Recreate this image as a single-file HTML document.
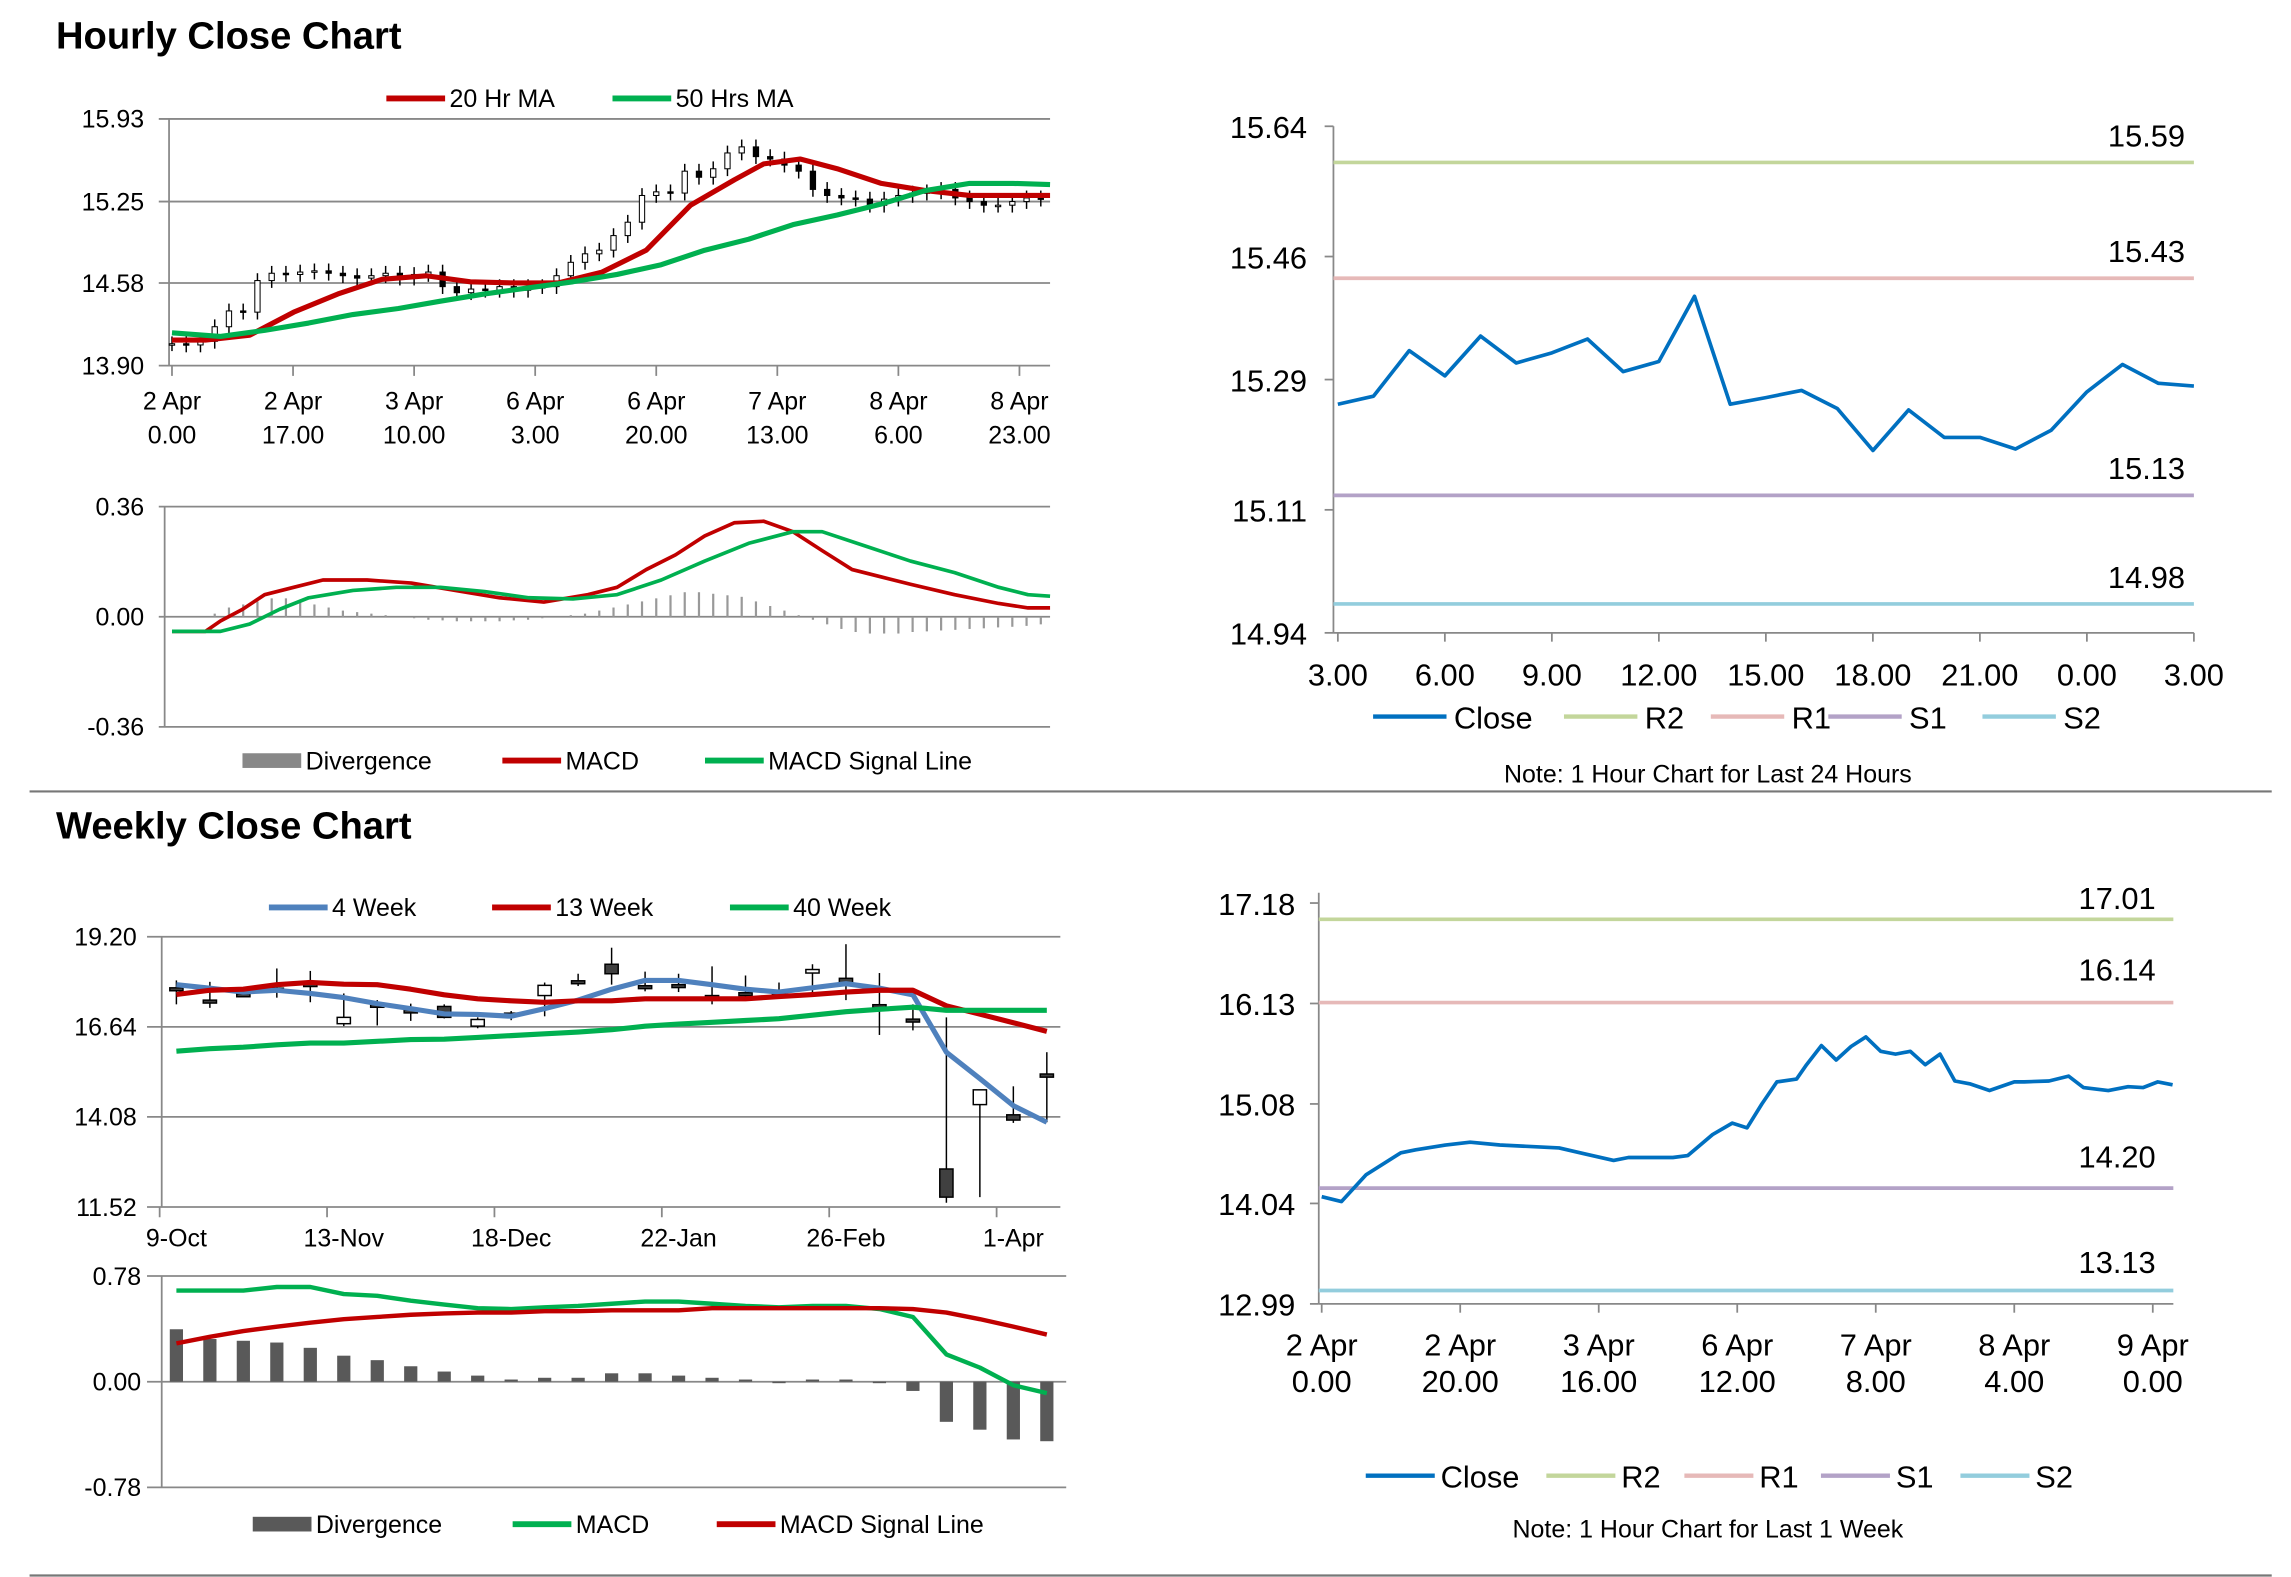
<!DOCTYPE html>
<html><head><meta charset="utf-8"><style>
html,body{margin:0;padding:0;background:#fff;}
svg{display:block;font-family:"Liberation Sans",sans-serif;}
</style></head><body>
<svg id="s" width="2291" height="1577" viewBox="0 0 1560 1074">
<text x="38" y="33" font-size="26" font-weight="bold">Hourly Close Chart</text>
<text x="38" y="571" font-size="26" font-weight="bold">Weekly Close Chart</text>
<line x1="20" y1="539" x2="1547" y2="539" stroke="#777" stroke-width="1.5"/>
<line x1="20" y1="1073" x2="1547" y2="1073" stroke="#777" stroke-width="1.5"/>
<g id="g"></g>
</svg>
<script>
const hCloses=[14.08,14.07,14.10,14.22,14.35,14.34,14.60,14.66,14.65,14.67,14.68,14.66,14.64,14.62,14.64,14.66,14.62,14.65,14.67,14.55,14.50,14.53,14.52,14.55,14.52,14.55,14.55,14.64,14.75,14.82,14.85,14.97,15.08,15.30,15.33,15.32,15.50,15.45,15.52,15.65,15.70,15.62,15.60,15.55,15.50,15.35,15.30,15.28,15.27,15.22,15.27,15.30,15.32,15.33,15.35,15.28,15.25,15.22,15.22,15.25,15.28,15.27];
const ma20Hours=[0,4.7,10.9,17.1,23.3,29.5,35.7,41.9,48,54.2,60.4,66.6,72.8,79,83.1,88.2,93.4,99.6,105.8,112,118.1,123.3];
const ma20=[14.11,14.11,14.15,14.34,14.49,14.61,14.64,14.59,14.58,14.58,14.67,14.85,15.22,15.43,15.56,15.60,15.52,15.40,15.34,15.30,15.30,15.30];
const ma50Hours=[0,6.8,13,19.2,25.4,31.8,37.7,43.9,50.1,56.3,62.5,68.7,74.8,81,87.2,93.4,99.6,105.8,112,118.1,123.3];
const ma50=[14.17,14.14,14.19,14.25,14.32,14.37,14.43,14.49,14.54,14.59,14.65,14.73,14.85,14.94,15.06,15.14,15.23,15.34,15.40,15.40,15.39];
const hTicks=["2 Apr|0.00","2 Apr|17.00","3 Apr|10.00","6 Apr|3.00","6 Apr|20.00","7 Apr|13.00","8 Apr|6.00","8 Apr|23.00"];
const hPriceTicks=[15.93,15.25,14.58,13.90];
const macdHours=[0,4.7,6.8,9.9,13,17.1,21.2,27.4,33.6,39.8,46,52.2,58.4,62.5,66.6,70.7,74.8,79,83.1,87.2,91.3,95.5,99.6,103.7,109.9,116.1,120.2,123.3];
const macdH=[-0.048,-0.048,-0.014,0.024,0.072,0.096,0.12,0.12,0.11,0.086,0.062,0.048,0.072,0.096,0.154,0.202,0.264,0.307,0.312,0.278,0.216,0.154,0.13,0.106,0.072,0.043,0.029,0.029];
const sigHours=[0,6.8,10.9,15.1,19.2,25.4,31.5,37.7,43.9,50.1,56.3,62.5,68.7,74.8,81,87.2,91.3,97.5,103.7,109.9,116.1,120.2,123.3];
const sigH=[-0.048,-0.048,-0.024,0.024,0.062,0.086,0.096,0.096,0.082,0.062,0.058,0.072,0.12,0.182,0.24,0.278,0.278,0.23,0.182,0.144,0.096,0.072,0.067];
const divH=[0,0,0,0.01,0.03,0.04,0.05,0.06,0.06,0.05,0.04,0.03,0.02,0.015,0.01,0.005,0,-0.005,-0.01,-0.012,-0.015,-0.015,-0.015,-0.015,-0.012,-0.01,-0.005,0,0.005,0.01,0.02,0.03,0.04,0.05,0.06,0.07,0.08,0.08,0.075,0.07,0.065,0.05,0.035,0.02,0.005,-0.01,-0.025,-0.04,-0.05,-0.055,-0.055,-0.055,-0.05,-0.048,-0.045,-0.043,-0.04,-0.038,-0.035,-0.033,-0.03,-0.025];
const macdHTicks=[0.36,0.00,-0.36];
const dayClose=[15.256,15.267,15.330,15.295,15.350,15.313,15.327,15.346,15.301,15.315,15.405,15.256,15.265,15.275,15.250,15.192,15.248,15.210,15.210,15.194,15.220,15.273,15.311,15.285,15.281];
const dayTicks=["3.00","6.00","9.00","12.00","15.00","18.00","21.00","0.00","3.00"];
const dayYTicks=[15.64,15.46,15.29,15.11,14.94];
const dayLevels=[15.59,15.43,15.13,14.98];
const wOpen=[17.75,17.40,17.58,17.74,17.87,16.73,17.28,17.12,17.22,16.66,17.03,17.53,17.95,18.42,17.81,17.84,17.53,17.61,17.64,18.17,18.02,17.27,16.86,12.60,14.43,14.14,15.30];
const wClose=[17.70,17.33,17.53,17.70,17.85,16.91,17.22,17.06,16.91,16.85,16.98,17.82,17.87,18.15,17.75,17.76,17.50,17.55,17.61,18.27,17.87,17.24,16.81,11.80,14.85,13.99,15.21];
const wHigh=[17.96,17.92,17.77,18.30,18.23,17.59,17.40,17.30,17.28,16.91,17.09,17.90,18.15,18.89,18.21,18.15,18.36,18.10,17.90,18.42,18.99,18.17,17.28,16.91,14.85,14.95,15.92];
const wLow=[17.28,17.18,17.50,17.47,17.34,16.66,16.68,16.81,16.88,16.60,16.83,16.94,17.80,17.84,17.65,17.63,17.28,17.50,17.53,17.50,17.40,16.41,16.54,11.64,11.80,13.91,13.93];
const wk4=[17.84,17.74,17.63,17.68,17.59,17.47,17.30,17.16,17.01,16.99,16.94,17.16,17.40,17.71,17.96,17.96,17.84,17.71,17.63,17.75,17.87,17.74,17.55,15.92,15.17,14.40,13.93];
const wk13=[17.56,17.68,17.71,17.84,17.90,17.85,17.84,17.71,17.55,17.44,17.38,17.34,17.38,17.38,17.44,17.44,17.44,17.44,17.50,17.56,17.63,17.68,17.68,17.24,17.00,16.76,16.51];
const wk40=[15.95,16.02,16.06,16.13,16.18,16.18,16.23,16.28,16.29,16.34,16.39,16.44,16.49,16.56,16.66,16.72,16.77,16.82,16.87,16.97,17.07,17.14,17.20,17.11,17.11,17.11,17.11];
const wTicks=["9-Oct","13-Nov","18-Dec","22-Jan","26-Feb","1-Apr"];
const wPriceTicks=[19.20,16.64,14.08,11.52];
const wMacd=[0.673,0.673,0.673,0.699,0.699,0.647,0.634,0.598,0.569,0.543,0.536,0.549,0.559,0.575,0.591,0.591,0.575,0.559,0.549,0.559,0.559,0.536,0.478,0.201,0.104,-0.026,-0.084];
const wSig=[0.283,0.331,0.374,0.406,0.435,0.461,0.478,0.494,0.504,0.510,0.510,0.520,0.520,0.526,0.526,0.526,0.543,0.543,0.543,0.543,0.543,0.543,0.536,0.510,0.461,0.406,0.348];
const wDiv=[0.387,0.315,0.302,0.289,0.25,0.192,0.159,0.114,0.075,0.045,0.016,0.029,0.029,0.062,0.062,0.045,0.029,0.016,-0.01,0.016,0.016,-0.01,-0.068,-0.296,-0.354,-0.426,-0.439];
const wMacdTicks=[0.78,0.00,-0.78];
const wkHours=[0,4,9,16,19,25,30,36,48,53,59,62,71,74,79,83,86,89,92,96,98,101,104,107,110,113,116,119,122,125,128,131,135,140,142,147,151,154,159,163,166,169,172];
const wkClose=[14.11,14.06,14.34,14.57,14.60,14.65,14.68,14.65,14.62,14.56,14.49,14.52,14.52,14.54,14.76,14.88,14.83,15.08,15.31,15.34,15.49,15.69,15.54,15.68,15.78,15.63,15.60,15.63,15.49,15.60,15.32,15.29,15.22,15.31,15.31,15.32,15.37,15.25,15.22,15.26,15.25,15.31,15.28];
const wkTicks=["2 Apr|0.00","2 Apr|20.00","3 Apr|16.00","6 Apr|12.00","7 Apr|8.00","8 Apr|4.00","9 Apr|0.00"];
const wkYTicks=[17.18,16.13,15.08,14.04,12.99];
const wkLevels=[17.01,16.14,14.20,13.13];

const NS="http://www.w3.org/2000/svg";
const G=document.getElementById('g');
function mk(tag,attrs,parent){const e=document.createElementNS(NS,tag);for(const k in attrs)e.setAttribute(k,attrs[k]);(parent||G).appendChild(e);return e;}
function txt(x,y,s,size,anchor,parent){const t=mk('text',{x:x,y:y,'font-size':size,'text-anchor':anchor||'start'},parent);t.textContent=s;return t;}
function lin(a,b,c,d,col,w,parent){return mk('line',{x1:a,y1:b,x2:c,y2:d,stroke:col,'stroke-width':w},parent);}
function path(xs,ys,sx,sy,col,w,parent){let d='';for(let i=0;i<xs.length;i++)d+=(i?'L':'M')+sx(xs[i]).toFixed(1)+' '+sy(ys[i]).toFixed(1);return mk('path',{d:d,fill:'none',stroke:col,'stroke-width':w,'stroke-linejoin':'round'},parent);}
function grp(name){const g=mk('g',{});return g;}
function legLine(x,y,col,label,size,parent){const g=mk('g',{},parent);lin(x,y,x+40,y,col,4,g);txt(x+43,y+6,label,size,'start',g);return g;}
function legBox(x,y,col,label,size,parent){const g=mk('g',{},parent);mk('rect',{x:x,y:y-5,width:40,height:10,fill:col},g);txt(x+43,y+6,label,size,'start',g);return g;}
const RED='#c00000',GREEN='#00b050',BLUE='#4f81bd',CLOSE='#0070c0';

(function(){
 const g=grp('hourly-price-chart');
 const xH=h=>117+h*4.85, y=v=>81+(15.93-v)*168/2.03;
 hPriceTicks.forEach(v=>{lin(108,y(v),715,y(v),'#888',1.2,g);const t=txt(98,y(v)+6,v.toFixed(2),17,'end',g);});
 lin(115,81,115,249,'#888',1.2,g);
 hTicks.forEach((s,i)=>{const h=i*17;lin(xH(h),249,xH(h),256,'#888',1.2,g);const p=s.split('|');const t=txt(xH(h),279,p[0],17,'middle',g);txt(xH(h),302,p[1],17,'middle',g);});
 hCloses.forEach((c,i)=>{const o=i?hCloses[i-1]:c;const x=xH(i*2);const top=y(Math.max(o,c)),bot=y(Math.min(o,c));
  const w=lin(x,top-5,x,bot+5,'#000',1,g);
  const r=mk('rect',{x:x-1.8,y:top,width:3.6,height:Math.max(1,bot-top),fill:c>=o?'#fff':'#000',stroke:'#000','stroke-width':0.7},g);});
 const a=path(ma20Hours,ma20,xH,y,RED,3.5,g);
 const b=path(ma50Hours,ma50,xH,y,GREEN,3.5,g);
 legLine(263,67,RED,'20 Hr MA',17,g);legLine(417,67,GREEN,'50 Hrs MA',17,g);
})();
(function(){
 const g=grp('hourly-macd-chart');
 const xH=h=>117+h*4.85, y=v=>420-v*75/0.36;
 macdHTicks.forEach(v=>{lin(108,y(v),715,y(v),'#888',1.2,g);const t=txt(98,y(v)+6,v.toFixed(2),17,'end',g);});
 lin(112,345,112,495,'#888',1.2,g);
 divH.forEach((d,i)=>{const x=xH(i*2);const b=lin(x,y(0),x,y(d),'#999',1.5,g);});
 const a=path(macdHours,macdH,xH,y,RED,2.5,g);
 const b=path(sigHours,sigH,xH,y,GREEN,2.5,g);
 legBox(165,518,'#888','Divergence',17,g);legLine(342,518,RED,'MACD',17,g);legLine(480,518,GREEN,'MACD Signal Line',17,g);
})();
(function(){
 const g=grp('hourly-24h-chart');
 const x=i=>911+i*583/24, y=v=>86+(15.64-v)*345/0.70;
 const cols=['#c3d69b','#e6b9b8','#b3a2c7','#93cddd'];
 lin(908,86,908,431,'#888',1.2,g);lin(908,431,1494,431,'#888',1.2,g);
 dayYTicks.forEach(v=>{lin(902,y(v),908,y(v),'#888',1.2,g);const t=txt(890,y(v)+8,v.toFixed(2),21,'end',g);});
 dayTicks.forEach((s,i)=>{const xx=x(i*3);lin(xx,431,xx,437,'#888',1.2,g);const t=txt(xx,467,s,21,'middle',g);});
 dayLevels.forEach((v,i)=>{const l=lin(908,y(v),1494,y(v),cols[i],2.5,g);const t=txt(1488,y(v)-11,v.toFixed(2),21,'end',g);});
 const p=path(dayClose.map((_,i)=>i),dayClose,x,y,CLOSE,2.5,g);
 const L=[['Close',CLOSE,935],['R2',cols[0],1065],['R1',cols[1],1165],['S1',cols[2],1245],['S2',cols[3],1350]];
 L.forEach(e=>{const q=mk('g',{},g);lin(e[2],488,e[2]+50,488,e[1],3,q);txt(e[2]+55,496,e[0],21,'start',q);});
 const n=txt(1163,533,'Note: 1 Hour Chart for Last 24 Hours',17,'middle',g);
})();
(function(){
 const g=grp('weekly-price-chart');
 const xw=i=>120+i*22.8, y=v=>638+(19.20-v)*184/7.68;
 wPriceTicks.forEach(v=>{lin(100,y(v),722,y(v),'#888',1.2,g);const t=txt(93,y(v)+6,v.toFixed(2),17,'end',g);});
 lin(110,638,110,822,'#888',1.2,g);
 wTicks.forEach((s,i)=>{const xx=xw(i*5);lin(xx-11.4,822,xx-11.4,829,'#888',1.2,g);const t=txt(xx,849,s,17,'middle',g);});
 wOpen.forEach((o,i)=>{const c=wClose[i],x=xw(i);const wk=lin(x,y(wHigh[i]),x,y(wLow[i]),'#000',1,g);
  const top=y(Math.max(o,c)),bot=y(Math.min(o,c));const r=mk('rect',{x:x-4.5,y:top,width:9,height:Math.max(2,bot-top),fill:c>=o?'#fff':'#404040',stroke:'#000','stroke-width':1},g);});
 const a=path(wOpen.map((_,i)=>i),wk4,xw,y,BLUE,3.5,g);
 const b=path(wOpen.map((_,i)=>i),wk13,xw,y,RED,3.5,g);
 const c=path(wOpen.map((_,i)=>i),wk40,xw,y,GREEN,3.5,g);
 legLine(183,618,BLUE,'4 Week',17,g);legLine(335,618,RED,'13 Week',17,g);legLine(497,618,GREEN,'40 Week',17,g);
})();
(function(){
 const g=grp('weekly-macd-chart');
 const xw=i=>120+i*22.8, y=v=>941-v*72/0.78;
 wMacdTicks.forEach(v=>{lin(100,y(v),726,y(v),'#888',1.2,g);const t=txt(96,y(v)+6,v.toFixed(2),17,'end',g);});
 lin(110,869,110,1013,'#888',1.2,g);
 wDiv.forEach((d,i)=>{const top=y(Math.max(d,0)),bot=y(Math.min(d,0));const r=mk('rect',{x:xw(i)-4.5,y:top,width:9,height:Math.max(1,bot-top),fill:'#595959'},g);});
 const a=path(wMacd.map((_,i)=>i),wMacd,xw,y,GREEN,3,g);
 const b=path(wSig.map((_,i)=>i),wSig,xw,y,RED,3,g);
 legBox(172,1038,'#595959','Divergence',17,g);legLine(349,1038,GREEN,'MACD',17,g);legLine(488,1038,RED,'MACD Signal Line',17,g);
})();
(function(){
 const g=grp('weekly-hourly-close-chart');
 const x=h=>900+h*566/168, y=v=>615+(17.18-v)*273/4.19;
 const cols=['#c3d69b','#e6b9b8','#b3a2c7','#93cddd'];
 lin(898,608,898,888,'#888',1.2,g);lin(898,888,1480,888,'#888',1.2,g);
 wkYTicks.forEach(v=>{lin(892,y(v),898,y(v),'#888',1.2,g);const t=txt(882,y(v)+8,v.toFixed(2),21,'end',g);});
 wkTicks.forEach((s,i)=>{const xx=x(i*28);lin(xx,888,xx,894,'#888',1.2,g);const p=s.split('|');const t=txt(xx,923,p[0],21,'middle',g);txt(xx,948,p[1],21,'middle',g);});
 wkLevels.forEach((v,i)=>{const l=lin(898,y(v),1480,y(v),cols[i],2.5,g);const t=txt(1468,(i===0?y(v)-7:i===1?y(v)-15:i===2?y(v)-14:y(v)-12),v.toFixed(2),21,'end',g);});
 const p=path(wkHours,wkClose,x,y,CLOSE,2.5,g);
 const L=[['Close',CLOSE,930],['R2',cols[0],1053],['R1',cols[1],1147],['S1',cols[2],1240],['S2',cols[3],1335]];
 L.forEach(e=>{const q=mk('g',{},g);lin(e[2],1005,e[2]+47,1005,e[1],3,q);txt(e[2]+51,1013,e[0],21,'start',q);});
 const n=txt(1163,1047,'Note: 1 Hour Chart for Last 1 Week',17,'middle',g);
})();
</script>
</body></html>
